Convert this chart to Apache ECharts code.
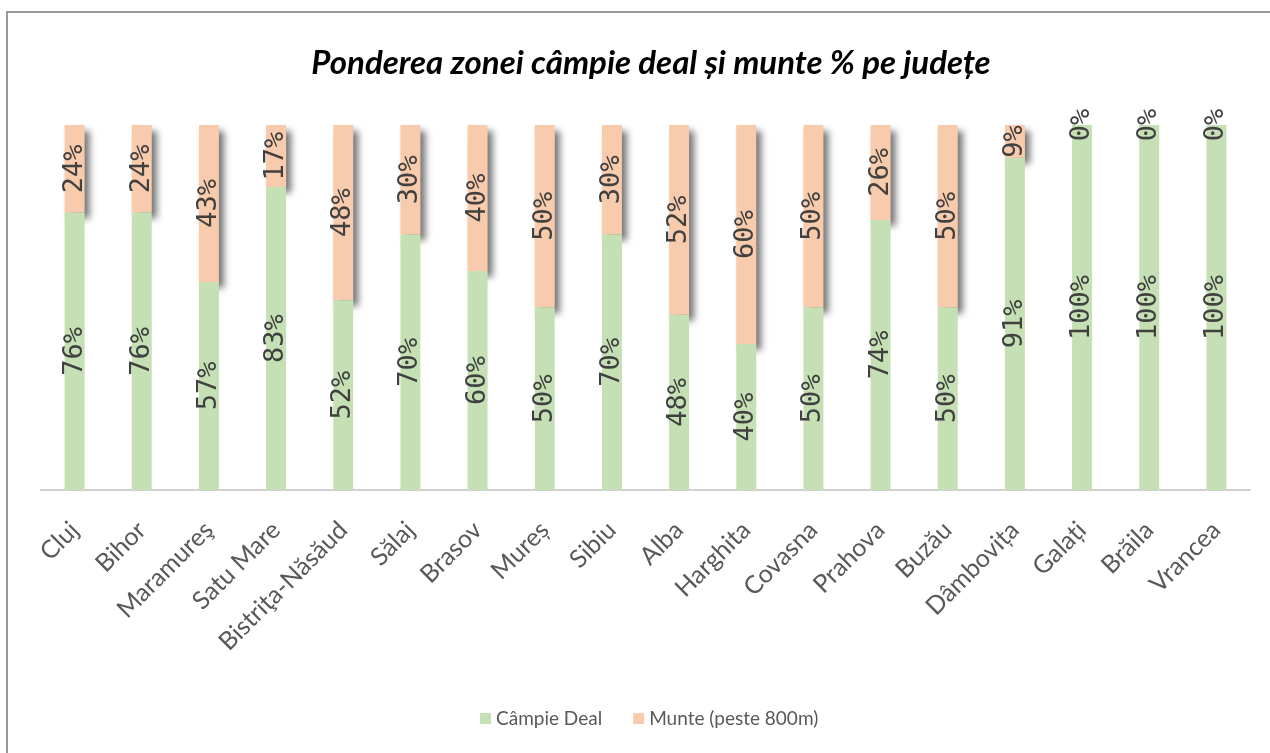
<!DOCTYPE html>
<html>
<head>
<meta charset="utf-8">
<script src="https://cdn.jsdelivr.net/npm/echarts@6/dist/echarts.min.js"></script>
<style>
  html, body { margin: 0; padding: 0; background: #fff; }
  #frame {
    position: absolute; left: 6px; top: 11px; width: 1300px; height: 800px;
    border-top: 2px solid #9a9a9a; border-left: 2px solid #9a9a9a;
  }
  #chart { position: absolute; left: 0; top: 0; width: 1270px; height: 753px; }
</style>
</head>
<body>
<div id="frame"></div>
<div id="chart"></div>
<script>
// judete
const judete = ['Cluj', 'Bihor', 'Maramureş', 'Satu Mare', 'Bistriţa-Năsăud', 'Sălaj', 'Brasov', 'Mureș', 'Sibiu',
  'Alba', 'Harghita', 'Covasna', 'Prahova', 'Buzău', 'Dâmbovița', 'Galați', 'Brăila', 'Vrancea']
// procente
const campieDeal = [76, 76, 57, 83, 52, 70, 60, 50, 70, 48, 40, 50, 74, 50, 91, 100, 100, 100]
const munte = [24, 24, 43, 17, 48, 30, 40, 50, 30, 52, 60, 50, 26, 50, 9, 0, 0, 0]

const myChart = echarts.init(document.getElementById('chart'))
const labelStyle = {
  show: true,
  position: 'inside',
  rotate: 90,
  formatter: '{c}%',
  fontFamily: 'DejaVu Sans Mono',
  fontSize: 27,
  color: '#404040'
}

const option = {
  animation: false,
  title: {
    text: 'Ponderea zonei câmpie deal și munte % pe județe',
    left: 646,
    textAlign: 'center',
    top: 42,
    textStyle: {
      fontFamily: 'Lato',
      fontStyle: 'italic',
      fontWeight: 'bold',
      fontSize: 33,
      color: '#000'
    }
  },
  legend: {
    left: 475,
    top: 704,
    itemWidth: 11,
    itemHeight: 11,
    itemGap: 31,
    icon: 'rect',
    textStyle: { fontFamily: 'Lato', fontSize: 19, color: '#595959' },
    data: ['Câmpie Deal', 'Munte (peste 800m)']
  },
  grid: {
    left: 41,
    right: 20,
    top: 125,
    bottom: 263
  },
  xAxis: {
    type: 'category',
    data: judete,
    axisLine: { lineStyle: { color: '#d0d0d0', width: 2 } },
    axisTick: { show: false },
    axisLabel: {
      rotate: 45,
      margin: 36,
      interval: 0,
      fontFamily: 'Lato',
      fontSize: 25,
      color: '#595959'
    }
  },
  yAxis: {
    type: 'value',
    min: 0,
    max: 100,
    show: false,
    splitLine: { show: false }
  },
  series: [
    {
      name: 'Câmpie Deal',
      type: 'bar',
      stack: 'total',
      barWidth: 20,
      z: 3,
      itemStyle: { color: '#c5e0b4' },
      label: labelStyle,
      data: campieDeal
    },
    {
      name: 'Munte (peste 800m)',
      type: 'bar',
      stack: 'total',
      barWidth: 20,
      z: 2,
      itemStyle: {
        color: '#f8cbad',
        shadowColor: 'rgba(0, 0, 0, 0.55)',
        shadowBlur: 7,
        shadowOffsetX: 5,
        shadowOffsetY: 6
      },
      label: {
        ...labelStyle,
        formatter: p => (p.value ? p.value + '%' : '')
      },
      data: munte
    },
    {
      // eticheta 0% pentru munte, desenata peste barele verzi
      name: 'etichete munte',
      type: 'bar',
      stack: 'total',
      barWidth: 20,
      z: 4,
      silent: true,
      itemStyle: { color: 'rgba(0,0,0,0)' },
      label: labelStyle,
      data: munte.map(v => (v === 0 ? 0 : '-'))
    }
  ]
}
myChart.setOption(option)
</script>
</body>
</html>
